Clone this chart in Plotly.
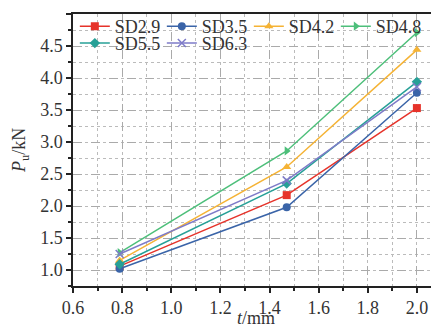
import plotly.graph_objects as go

t_mm = [0.79, 1.47, 2.0]
SD29 = [1.06, 2.17, 3.53]
SD35 = [1.02, 1.98, 3.77]
SD42 = [1.15, 2.61, 4.44]
SD48 = [1.27, 2.86, 4.71]
SD55 = [1.09, 2.35, 3.94]
SD63 = [1.25, 2.40, 3.86]

series = [
    ("SD2.9", SD29, "#E6332A", "square", "legend"),
    ("SD3.5", SD35, "#3A64A8", "circle", "legend"),
    ("SD4.2", SD42, "#F5B335", "triangle-up", "legend"),
    ("SD4.8", SD48, "#4DBF7A", "triangle-right", "legend"),
    ("SD5.5", SD55, "#27A097", "diamond", "legend2"),
    ("SD6.3", SD63, "#7E7BC8", "x-thin", "legend2"),
]

fig = go.Figure()
for name, ys, col, sym, lg in series:
    mk = dict(symbol=sym, size=8, color=col)
    if sym == "x-thin":
        mk = dict(symbol=sym, size=8, color=col, line=dict(color=col, width=1.5))
    fig.add_trace(go.Scatter(x=t_mm, y=ys, name=name, mode="lines+markers", legend=lg,
                             line=dict(color=col, width=1.5), marker=mk))

font = "Liberation Serif"
legend_common = dict(orientation="h", x=0.005, xanchor="left", yanchor="top",
                     entrywidth=42, entrywidthmode="pixels", itemwidth=30,
                     font=dict(family=font, size=18, color="#333"),
                     bgcolor="rgba(0,0,0,0)", traceorder="normal")
fig.update_layout(
    template="none",
    width=439, height=331,
    margin=dict(l=65, r=8, t=6, b=53, autoexpand=False),
    paper_bgcolor="white", plot_bgcolor="white",
    font=dict(family=font, size=18, color="#333"),
    showlegend=True,
    legend=dict(y=1.022, **legend_common),
    legend2=dict(y=0.96, **legend_common),
    shapes=[
        dict(type="rect", xref="paper", yref="paper", x0=0, x1=1, y0=0.912, y1=1,
             fillcolor="white", line=dict(width=0), layer="between"),
        dict(type="rect", xref="paper", yref="paper", x0=0, x1=0.489, y0=0.831, y1=0.912,
             fillcolor="white", line=dict(width=0), layer="between"),
    ],
)
axis_common = dict(ticks="outside", ticklen=5, tickwidth=1.5, tickcolor="#222",
                   showline=True, linecolor="#222", linewidth=1.5, mirror=True,
                   showgrid=True, gridcolor="#aaaaaa", griddash="dash", gridwidth=1,
                   zeroline=False, automargin=False,
                   tickfont=dict(family=font, size=18, color="#333"))
fig.update_xaxes(range=[0.6, 2.09], tickvals=[0.6, 0.8, 1.0, 1.2, 1.4, 1.6, 1.8, 2.0],
                 ticktext=["0.6", "0.8", "1.0", "1.2", "1.4", "1.6", "1.8", "2.0"],
                 minor=dict(dtick=0.1, tick0=0.6, ticks="outside", ticklen=3, tickcolor="#222",
                            showgrid=True, gridcolor="#bbbbbb", griddash="dot", gridwidth=1),
                 **axis_common)
fig.update_yaxes(range=[0.75, 5.0], tickvals=[1.0, 1.5, 2.0, 2.5, 3.0, 3.5, 4.0, 4.5, 5.0],
                 ticktext=["1.0", "1.5", "2.0", "2.5", "3.0", "3.5", "4.0", "4.5", "5.0"],
                 minor=dict(dtick=0.25, tick0=0.75, ticks="outside", ticklen=3, tickcolor="#222",
                            showgrid=True, gridcolor="#bbbbbb", griddash="dot", gridwidth=1),
                 **axis_common)

fig.add_annotation(text="<i>t</i>/mm", xref="paper", yref="paper", x=0.5, y=-0.118,
                   xanchor="center", yanchor="middle", showarrow=False,
                   font=dict(family=font, size=18, color="#333"))
fig.add_annotation(text="<i>P</i><sub>u</sub>/kN", xref="paper", yref="paper", x=-0.145, y=0.5,
                   xanchor="center", yanchor="middle", showarrow=False, textangle=-90,
                   font=dict(family=font, size=18, color="#333"))

fig.write_html("out.html")
